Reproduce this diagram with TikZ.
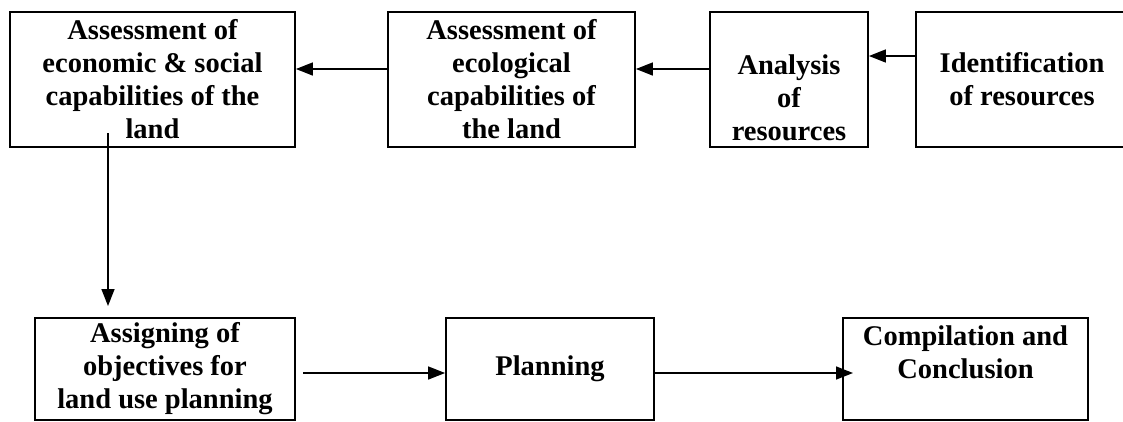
\documentclass[tikz,border=0pt]{standalone}
\usepackage{fontspec}
\setmainfont{Liberation Serif}
\usetikzlibrary{arrows.meta}
\tikzset{
  box/.style={draw=black, line width=1.8pt, rectangle, inner sep=0pt, align=center,
    font=\bfseries\fontsize{28.5}{33}\selectfont},
  arr/.style={draw=black, line width=1.5pt, -{Triangle[length=17pt,width=13pt]}},
}
\begin{document}
\begin{tikzpicture}[x=1pt,y=-1pt]
\clip (0,0) rectangle (1123,421);
% top row
\node[box, minimum width=285pt, minimum height=135pt] (A) at (152.5,79.5)
  {Assessment of\\economic \& social\\capabilities of the\\land};
\node[box, minimum width=247pt, minimum height=135pt] (B) at (511.5,79.5)
  {Assessment of\\ecological\\capabilities of\\the land};
\node[box, minimum width=158pt, minimum height=135pt] (C) at (789,79.5)
  {\strut\\Analysis\\of\\resources};
\node[box, minimum width=212pt, minimum height=135pt] (D) at (1022,79.5)
  {Identification\\of resources};
% bottom row
\node[box, minimum width=260pt, minimum height=102pt] (E) at (165,369)
  {Assigning of\\objectives for\\land use planning};
\node[box, minimum width=208pt, minimum height=102pt] (F) at (550,369)
  {Planning};
\node[box, minimum width=245pt, minimum height=102pt] (G) at (965.5,369)
  {Compilation and\\Conclusion\\\mbox{}};
% connectors
\coordinate (a1) at (108,133);
\coordinate (e1) at (108,306);
\coordinate (e2) at (303,373);
\coordinate (g1) at (853,373);
\draw[arr] (B.west |- 0,69) -- (A.east |- 0,69);
\draw[arr] (C.west |- 0,69) -- (B.east |- 0,69);
\draw[arr] (D.west |- 0,56) -- (C.east |- 0,56);
\draw[arr] (a1) -- (e1);
\draw[arr] (e2) -- (F.west |- e2);
\draw[arr] (F.east |- g1) -- (g1);
\end{tikzpicture}
\end{document}
